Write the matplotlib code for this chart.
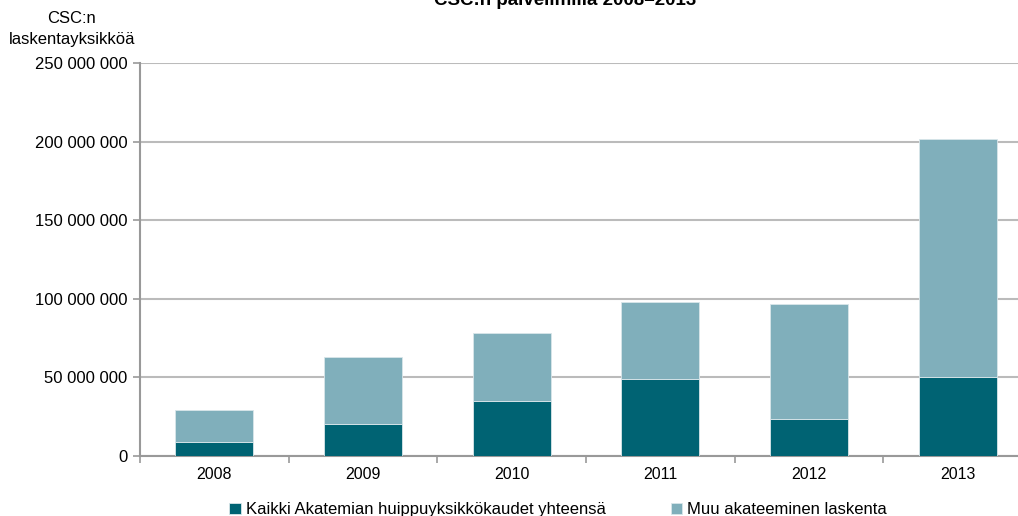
import numpy as np
import matplotlib.pyplot as plt

plt.rcParams['font.family'] = ['Liberation Sans', 'DejaVu Sans']

years = ['2008', '2009', '2010', '2011', '2012', '2013']
huippu = [8.9e6, 20.4e6, 34.8e6, 49.2e6, 23.3e6, 50.3e6]
muu_total = [29.3e6, 62.8e6, 78.0e6, 98.0e6, 96.9e6, 201.7e6]
muu = [t - h for t, h in zip(muu_total, huippu)]

dark = '#006373'
light = '#80AFBB'

fig = plt.figure(figsize=(10.18, 5.16), dpi=100)
ax = fig.add_axes([140/1018, 60/516, 892/1018, 393/516])

x = np.arange(len(years))
ax.bar(x, huippu, width=0.525, color=dark, edgecolor='#d9e6ea', linewidth=0.6,
       label='Kaikki Akatemian huippuyksikkökaudet yhteensä', zorder=3)
ax.bar(x, muu, bottom=huippu, width=0.525, color=light, edgecolor='#d9e6ea', linewidth=0.6,
       label='Muu akateeminen laskenta', zorder=3)

ax.set_xlim(-0.5, len(years) - 0.5)
ax.set_ylim(0, 250e6)
yt = np.arange(0, 250e6 + 1, 50e6)
ax.set_yticks(yt)
ax.set_yticklabels(['0' if v == 0 else f'{int(v):,}'.replace(',', ' ') for v in yt])
ax.set_xticks(x)
ax.set_xticklabels(years)
ax.set_xticks(np.arange(-0.5, len(years)), minor=True)
ax.tick_params(axis='x', which='major', length=0, pad=8, labelsize=11.5)
ax.tick_params(axis='x', which='minor', length=5, color='#999999', width=1.2)
ax.tick_params(axis='y', length=5, color='#999999', width=1.2, labelsize=12, pad=4)
ax.grid(axis='y', color='#bbbbbb', linewidth=1.5, zorder=0)
for s in ['top', 'right']:
    ax.spines[s].set_visible(False)
for s in ['left', 'bottom']:
    ax.spines[s].set_color('#999999')
    ax.spines[s].set_linewidth(1.5)

fig.text(565/1018, 1 - 9/516, 'CSC:n palvelimilla 2008–2013', ha='center', va='bottom',
         fontsize=13.5, fontweight='bold')
fig.text(72/1018, 1 - 29/516, 'CSC:n\nlaskentayksikköä', ha='center', va='center',
         fontsize=12, linespacing=1.45)

fig.legend(loc='upper center', bbox_to_anchor=(558/1018, 1 - 494/516), ncol=2, frameon=False,
           fontsize=12, handlelength=0.7, handleheight=0.7, handletextpad=0.3,
           columnspacing=3.9, borderpad=0)

fig.savefig('out.png', dpi=100)
